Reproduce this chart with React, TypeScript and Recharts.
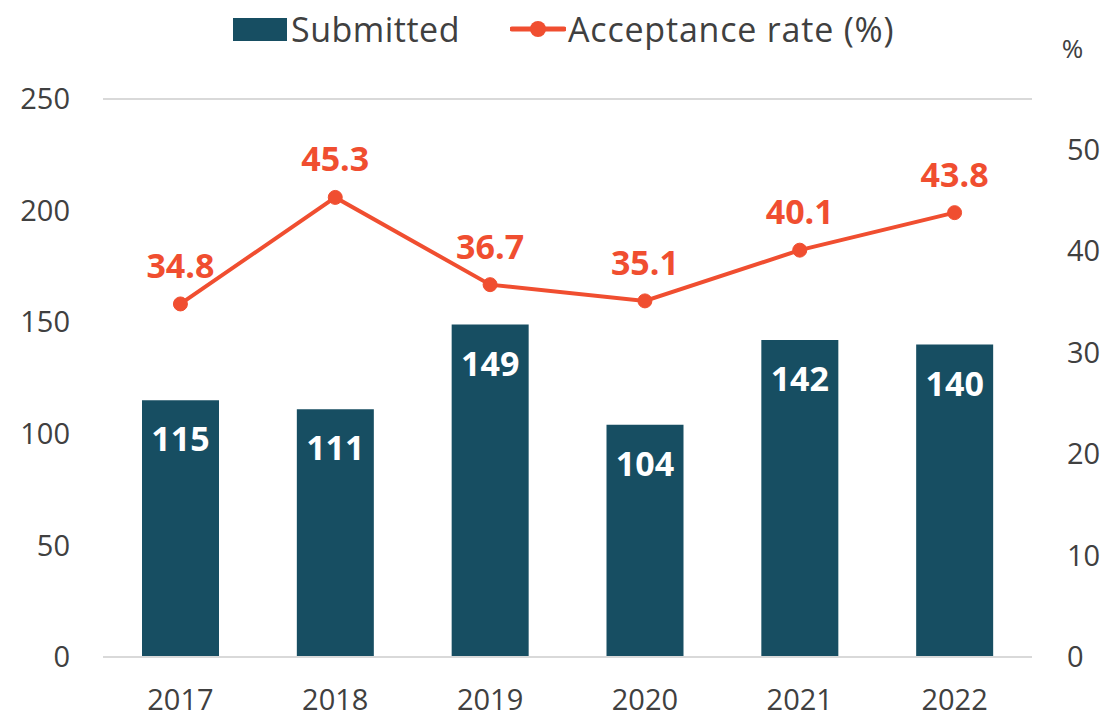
import React from 'react';
import { ComposedChart, Bar, Line, XAxis, YAxis, CartesianGrid, Legend, LabelList } from 'recharts';

const years = ['2017', '2018', '2019', '2020', '2021', '2022'];
const submitted = [115, 111, 149, 104, 142, 140];
const acceptanceRate = [34.8, 45.3, 36.7, 35.1, 40.1, 43.8];
const leftTicks = [0, 50, 100, 150, 200, 250];
const rightTicks = [0, 10, 20, 30, 40, 50];

const data = years.map((y, i) => ({ year: y, submitted: submitted[i], rate: acceptanceRate[i] }));

const BAR = '#174E62';
const LINE = '#F04E30';
const TEXT = '#404040';
const FONT = '"Open Sans", "Noto Sans", sans-serif';

const LegendContent = () => (
  <div style={{ height: 60, display: 'flex', alignItems: 'center', justifyContent: 'flex-start', fontFamily: FONT, fontSize: 34, color: TEXT, paddingLeft: 233, boxSizing: 'border-box', marginTop: -1 }}>
    <span style={{ display: 'inline-block', width: 54, height: 23, background: BAR, marginRight: 4 }} />
    <span style={{ letterSpacing: 0.5 }}>Submitted</span>
    <svg width={56} height={20} style={{ marginLeft: 50, marginRight: 2 }}>
      <line x1={2} y1={10} x2={54} y2={10} stroke={LINE} strokeWidth={5} strokeLinecap="round" />
      <circle cx={28} cy={10} r={8} fill={LINE} />
    </svg>
    <span style={{ letterSpacing: 0.8 }}>Acceptance rate (%)</span>
  </div>
);

export default function App() {
  return (
    <div style={{ position: 'absolute', left: 0, top: 0, width: 1101, height: 717, background: '#fff' }}>
      <ComposedChart width={1101} height={717} data={data} margin={{ top: 40, right: 0, bottom: 0, left: 0 }}>
        <CartesianGrid vertical={false} stroke="#D9D9D9" strokeWidth={2} />
        <Legend verticalAlign="top" align="left" wrapperStyle={{ top: 0, left: 0, width: 1101 }} content={<LegendContent />} />
        <XAxis dataKey="year" tickLine={false} axisLine={{ stroke: '#D9D9D9', strokeWidth: 2 }} tickSize={0} tickMargin={32} height={60}
          tick={{ fill: TEXT, fontSize: 29, fontFamily: FONT }} />
        <YAxis yAxisId="left" orientation="left" domain={[0, 250]} ticks={leftTicks} width={103} tickLine={false} axisLine={false}
          tickSize={0} tickMargin={33} tick={{ fill: TEXT, fontSize: 29, fontFamily: FONT }} interval={0} />
        <YAxis yAxisId="right" orientation="right" domain={[0, 55]} ticks={rightTicks} width={69} tickLine={false} axisLine={false}
          tickSize={0} tickMargin={35} tick={{ fill: TEXT, fontSize: 29, fontFamily: FONT }} interval={0}
          label={{ value: '%', position: 'top', offset: 41, dx: 6, fill: TEXT, fontSize: 26, fontFamily: FONT }} />
        <Bar yAxisId="left" dataKey="submitted" fill={BAR} barSize={77} isAnimationActive={false}>
          <LabelList dataKey="submitted" position="insideTop" offset={27} fill="#fff" fontSize={34} fontWeight="bold" fontFamily={FONT} />
        </Bar>
        <Line yAxisId="right" dataKey="rate" stroke={LINE} strokeWidth={4} dot={{ r: 7, fill: LINE, stroke: LINE, strokeWidth: 1 }} isAnimationActive={false}>
          <LabelList dataKey="rate" position="top" offset={26} fill={LINE} fontSize={34} fontWeight="bold" fontFamily={FONT} formatter={(v: number) => v.toFixed(1)} />
        </Line>
      </ComposedChart>
    </div>
  );
}
